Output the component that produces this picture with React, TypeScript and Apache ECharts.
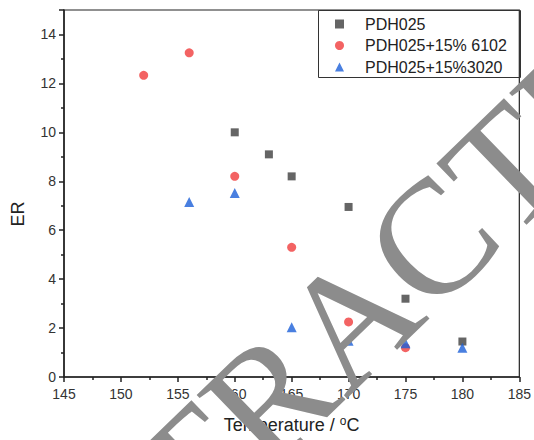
import React, { useEffect, useRef } from "react";
import * as echarts from "echarts";

const tempPDH = [160, 163, 165, 170, 175, 180];
const erPDH = [10.0, 9.1, 8.2, 6.95, 3.2, 1.45];
const temp6102 = [152, 156, 160, 165, 170, 175];
const er6102 = [12.33, 13.25, 8.2, 5.3, 2.25, 1.2];
const temp3020 = [156, 160, 165, 170, 175, 180];
const er3020 = [7.15, 7.52, 2.03, 1.48, 1.38, 1.2];
const seriesNames = ["PDH025", "PDH025+15% 6102", "PDH025+15%3020"];

const FONT = '"Liberation Sans", Arial, sans-serif';

export default function App() {
  const ref = useRef<HTMLDivElement>(null);
  useEffect(() => {
    document.body.style.margin = "0";
    const chart = echarts.init(ref.current!, null, { renderer: "svg" });
    const zip = (xs: number[], ys: number[]) => xs.map((x, i) => [x, ys[i]]);
    const axisLine = { show: true, lineStyle: { color: "#222", width: 1.5 } };
    chart.setOption({
      animation: false,
      grid: {
        left: 64, right: 13, top: 10, bottom: 62,
        show: true, borderColor: "#222", borderWidth: 1.2,
      },
      legend: {
        data: seriesNames,
        orient: "vertical",
        left: 335, top: 10,
        padding: [6, 0, 0, 0],
        itemGap: 5.5,
        itemWidth: 9,
        itemHeight: 9,
        textStyle: { fontSize: 16, color: "#222", fontFamily: FONT, lineHeight: 16, padding: [0, 0, 0, 16] },
      },
      xAxis: {
        type: "value",
        min: 145, max: 185, interval: 5,
        axisLine,
        axisTick: { show: true, length: 5, lineStyle: { color: "#222", width: 1.5 } },
        minorTick: { show: true, splitNumber: 2, length: 3, lineStyle: { color: "#222", width: 1.5 } },
        splitLine: { show: false },
        axisLabel: { fontSize: 14, color: "#333", fontFamily: FONT, margin: 10 },
        name: "Temperature / {sup|o}C",
        nameLocation: "middle",
        nameGap: 38,
        nameTextStyle: {
          fontSize: 18, color: "#222", fontFamily: FONT, lineHeight: 20,
          rich: { sup: { fontSize: 12, fontFamily: FONT, color: "#222", verticalAlign: "top", lineHeight: 20 } },
        },
      },
      yAxis: {
        type: "value",
        min: 0, max: 15, interval: 2,
        axisLine,
        axisTick: { show: true, length: 5, lineStyle: { color: "#222", width: 1.5 } },
        minorTick: { show: true, splitNumber: 2, length: 3, lineStyle: { color: "#222", width: 1.5 } },
        splitLine: { show: false },
        axisLabel: { fontSize: 14, color: "#333", fontFamily: FONT, margin: 8, showMaxLabel: false },
      },
      graphic: [
        {
          type: "rect",
          shape: { x: 318.5, y: 10.5, width: 202, height: 67 },
          style: { fill: "none", stroke: "#333", lineWidth: 1 },
          z: 1,
        },
        {
          type: "text",
          x: 18, y: 214,
          rotation: Math.PI / 2,
          style: {
            text: "ER", font: `18px ${FONT}`, fill: "#222",
            textAlign: "center", textVerticalAlign: "middle",
          },
        },
        {
          type: "text",
          x: 353, y: 316,
          rotation: (44 * Math.PI) / 180,
          z: 100,
          style: {
            text: "RETRACTED", font: '163px "Liberation Serif", "Times New Roman", serif',
            fill: "#8c8c8c",
            textAlign: "center", textVerticalAlign: "middle",
          },
        },
      ],
      series: [
        {
          name: seriesNames[0], type: "scatter", symbol: "rect", symbolSize: 8,
          itemStyle: { color: "#3f3f3f" }, data: zip(tempPDH, erPDH),
        },
        {
          name: seriesNames[1], type: "scatter", symbol: "circle", symbolSize: 9,
          itemStyle: { color: "#f03c3c" }, data: zip(temp6102, er6102),
        },
        {
          name: seriesNames[2], type: "scatter", symbol: "triangle", symbolSize: 10,
          itemStyle: { color: "#1c5fd8" }, data: zip(temp3020, er3020),
        },
      ],
    });
    return () => chart.dispose();
  }, []);
  return <div ref={ref} style={{ width: 534, height: 440 }} />;
}
